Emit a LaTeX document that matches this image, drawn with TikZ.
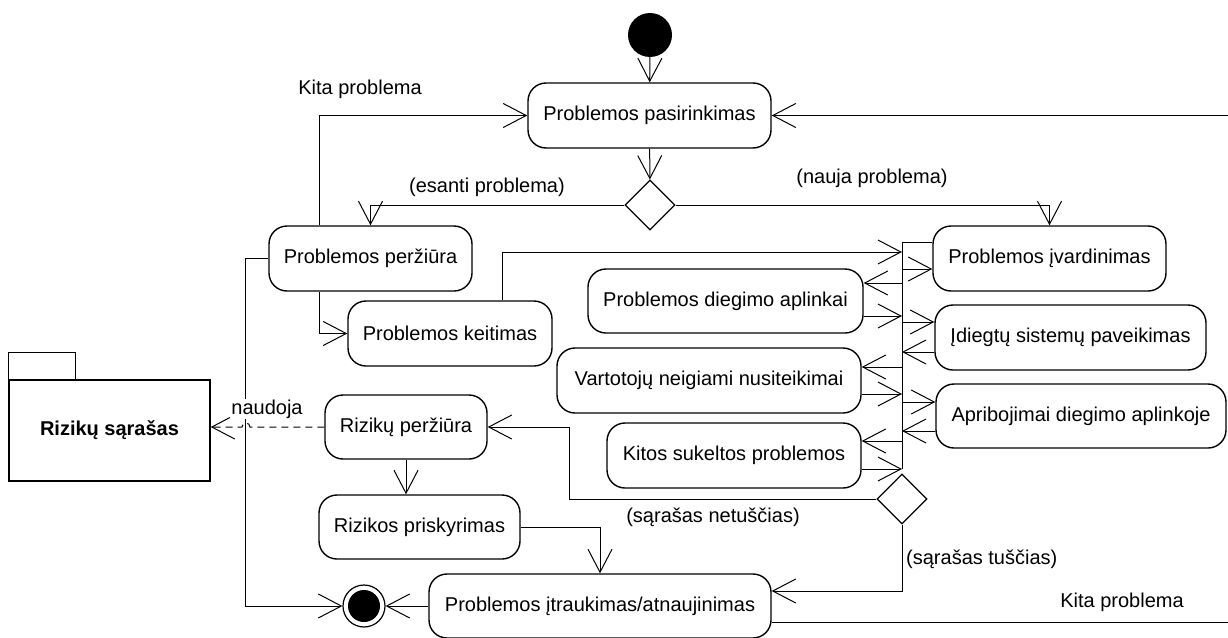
\documentclass[tikz,border=0pt]{standalone}
\usepackage{fontspec}
\setmainfont{Liberation Sans}
\usetikzlibrary{arrows.meta,shapes.geometric}

\begin{document}
\begin{tikzpicture}[x=1pt,y=-1pt,
  font=\fontsize{20}{24}\selectfont,
  act/.style={draw, rounded corners=18pt, line width=1.4pt, inner sep=0pt, minimum height=65pt},
  decision/.style={draw, diamond, line width=1.2pt, inner sep=0pt, minimum width=50pt, minimum height=50pt},
  conn/.style={line width=1pt},
  flow/.style={conn, -{Straight Barb[length=23pt,width=24pt,line width=1pt]}},
  lbl/.style={inner sep=1pt}
]
\useasboundingbox (0,0) rectangle (1228,637);
\clip (0,0) rectangle (1228,637);

% initial and final states
\node[circle, fill, inner sep=0pt, minimum size=44pt] (start) at (650,35) {};
\node[circle, draw, fill=white, line width=1.2pt, inner sep=0pt, minimum size=42pt] (fin) at (364,606) {};
\fill (fin.center) circle[radius=16pt];

% activities
\node[act, minimum width=243pt] (pas) at (649.5,115.5) {Problemos pasirinkimas};
\node[act, minimum width=203pt] (per) at (370.5,258.5) {Problemos peržiūra};
\node[act, minimum width=204pt] (kei) at (450,333.5) {Problemos keitimas};
\node[act, minimum width=233pt] (iva) at (1049.5,258.5) {Problemos įvardinimas};
\node[act, minimum width=275pt, minimum height=64pt] (dieg) at (725.5,301) {Problemos diegimo aplinkai};
\node[act, minimum width=271pt] (idg) at (1070.5,337.5) {Įdiegtų sistemų paveikimas};
\node[act, minimum width=304pt] (var) at (709,380.5) {Vartotojų neigiami nusiteikimai};
\node[act, minimum width=290pt, minimum height=64pt] (apr) at (1081,416) {Apribojimai diegimo aplinkoje};
\node[act, minimum width=254pt] (kit) at (734,455.5) {Kitos sukeltos problemos};
\node[act, minimum width=162pt, minimum height=64pt] (rp) at (406,427) {Rizikų peržiūra};
\node[act, minimum width=201pt, minimum height=64pt] (rpr) at (419.5,527) {Rizikos priskyrimas};
\node[act, minimum width=342pt, minimum height=64pt] (itr) at (600,606) {Problemos įtraukimas/atnaujinimas};

% decisions
\node[decision] (d1) at (650,205) {};
\node[decision] (d2) at (902,499) {};

% package
\node[draw, line width=1.4pt, minimum width=201pt, minimum height=101pt, inner sep=0pt,
      font=\fontsize{20}{24}\selectfont\bfseries] (pkg) at (109.5,430.5) {Rizikų sąrašas};
\draw[line width=1.4pt] (pkg.north west) rectangle ++(67,-27);

% join bar of the analysis activities
\coordinate (busT) at (902,242);
\coordinate (busB) at (902,469);
\draw[conn] (busT) -- (busB);
\draw[conn] (busT) -- (iva.west |- busT);

% main flow
\draw[flow] (start) -- (pas);
\draw[flow] (pas) -- (d1);
\draw[flow] (d1.west) -| (per.north);
\draw[flow] (d1.east) -| (iva.north);
\draw[flow] ([xshift=-51.5pt]per.north) |- (pas.west);
\draw[flow] ([xshift=-51.5pt]per.south) |- (kei.west);
\draw[flow] (per.west) -- ++(-23,0) |- (fin.west);
\draw[flow] ([xshift=52pt]kei.north) |- (busT |- 0,252);

\draw[flow] (busT |- 0,269) -- (iva.west |- 0,269);
\draw[flow] (busT |- 0,283) -- (dieg.east |- 0,283);
\draw[flow] (dieg.east |- 0,316) -- (busT |- 0,316);
\draw[flow] (busT |- 0,322) -- (idg.west |- 0,322);
\draw[flow] (idg.west |- 0,352) -- (busT |- 0,352);
\draw[flow] (busT |- 0,367) -- (var.east |- 0,367);
\draw[flow] (var.east |- 0,394) -- (busT |- 0,394);
\draw[flow] (busT |- 0,402) -- (apr.west |- 0,402);
\draw[flow] (apr.west |- 0,431) -- (busT |- 0,431);
\draw[flow] (busT |- 0,441) -- (kit.east |- 0,441);
\draw[flow] (kit.east |- 0,469) -- (busB);

\draw[flow] (d2.west) -- ++(-307,0) |- (rp.east);
\draw[flow] (d2.south) |- ([yshift=15pt]itr.east);
\draw[flow] (rp.south) -- (rp.south |- rpr.north);
\draw[flow] (rpr.east) -| (itr.north);
\draw[flow] (itr.west) -- (fin.east);
\draw[flow] ([yshift=-16pt]itr.east) -- ++(470,0) |- (pas.east);

% dependency on the risk list, hopping over the vertical flow line
\draw[conn, dash pattern=on 7pt off 5pt, -{Straight Barb[length=23pt,width=24pt,line width=1pt]}]
  (rp.west) -- (250,427) arc[start angle=0, end angle=180, radius=4pt] -- (rp.west -| pkg.east);

% guards and labels
\node[lbl] (l1) at (360,89) {Kita problema};
\node[lbl] (l2) at (487,187) {(esanti problema)};
\node[lbl] (l3) at (872,178) {(nauja problema)};
\node[lbl] (l4) at (713,517) {(sąrašas netuščias)};
\node[lbl, anchor=west] (l5) at (905,559) {(sąrašas tuščias)};
\node[lbl] (l6) at (1122,602) {Kita problema};
\node[lbl, fill=white] (l7) at (267,409) {naudoja};
\end{tikzpicture}
\end{document}
